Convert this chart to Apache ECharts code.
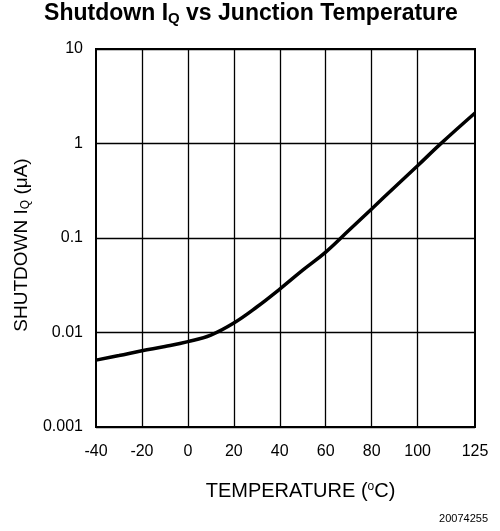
<!DOCTYPE html>
<html>
<head>
<meta charset="utf-8">
<script src="https://cdn.jsdelivr.net/npm/echarts@6/dist/echarts.min.js"></script>
<style>html,body{margin:0;padding:0;background:#fff}#c{width:500px;height:531px}</style>
</head>
<body>
<div id="c"></div>
<script>
// Data
const temperatures = [-40, -30, -20, -10, 0, 10, 20, 30, 40, 50, 60, 70, 80, 90, 100, 110, 125];
const iqValues =     [0.0051, 0.0057, 0.0064, 0.0071, 0.0080, 0.0094, 0.0126, 0.0186, 0.0288, 0.0457, 0.071, 0.120, 0.203, 0.345, 0.582, 0.99, 2.1];
const xTickLabels = [-40, -20, 0, 20, 40, 60, 80, 100, 125];
const xGridLines = [-20, 0, 20, 40, 60, 80, 100];
const yTickLabels = ['0.001', '0.01', '0.1', '1', '10'];

const FONT = '"Liberation Sans", Arial, sans-serif';
const chart = echarts.init(document.getElementById('c'));
chart.setOption({
  animation: false,
  backgroundColor: '#fff',
  title: {
    text: '{t|Shutdown I}{s|Q}{t| vs Junction Temperature}',
    left: 246, top: -4, textAlign: 'center',
    textStyle: {
      rich: {
        t: { fontFamily: FONT, fontWeight: 'bold', fontSize: 23, color: '#000' },
        s: { fontFamily: FONT, fontWeight: 'bold', fontSize: 15, color: '#000', verticalAlign: 'bottom', padding: [10, 0, 0, 0] }
      }
    }
  },
  grid: { left: 96, right: 25, top: 49, bottom: 104, show: true, borderColor: '#000', borderWidth: 2, backgroundColor: 'transparent' },
  xAxis: {
    type: 'value', min: -40, max: 125,
    axisLine: { show: false },
    axisTick: { show: false },
    splitLine: { show: false },
    axisLabel: { customValues: xTickLabels, color: '#000', fontFamily: FONT, fontSize: 16, margin: 17 },
    name: '{t|TEMPERATURE (}{s|o}{t|C)}',
    nameLocation: 'middle', nameGap: 54,
    nameTextStyle: {
      padding: [0, 0, 0, 30],
      rich: {
        t: { fontFamily: FONT, fontSize: 20, color: '#000' },
        s: { fontFamily: FONT, fontSize: 12, color: '#000', verticalAlign: 'top', padding: [0, 0, 7, 0] }
      }
    }
  },
  yAxis: {
    type: 'log', logBase: 10, min: 0.001, max: 10,
    axisLine: { show: false },
    axisTick: { show: false },
    splitLine: { show: true, lineStyle: { color: '#000', width: 1.3 } },
    axisLabel: {
      color: '#000', fontFamily: FONT, fontSize: 16, margin: 13,
      formatter: function (v) {
        const i = Math.round(Math.log10(v)) + 3;
        return yTickLabels[i] !== undefined ? yTickLabels[i] : '';
      }
    },
    name: '{t|SHUTDOWN I}{s|Q}{t| (μA)}',
    nameLocation: 'middle', nameGap: 63, nameRotate: 90,
    nameTextStyle: {
      padding: [0, 14, 0, 0],
      rich: {
        t: { fontFamily: FONT, fontSize: 19, color: '#000' },
        s: { fontFamily: FONT, fontSize: 12, color: '#000', verticalAlign: 'bottom', padding: [8, 0, 0, 0] }
      }
    }
  },
  series: [{
    type: 'line',
    data: temperatures.map((t, i) => [t, iqValues[i]]),
    smooth: 0.4,
    showSymbol: false,
    lineStyle: { color: '#000', width: 3.5 },
    markLine: {
      silent: true, symbol: 'none', label: { show: false },
      lineStyle: { color: '#000', width: 1.3, type: 'solid' },
      data: xGridLines.map(v => ({ xAxis: v }))
    }
  }],
  graphic: [{
    type: 'text', right: 12, top: 513,
    style: { text: '20074255', font: '11px ' + FONT, fill: '#000' }
  }]
});
</script>
</body>
</html>
